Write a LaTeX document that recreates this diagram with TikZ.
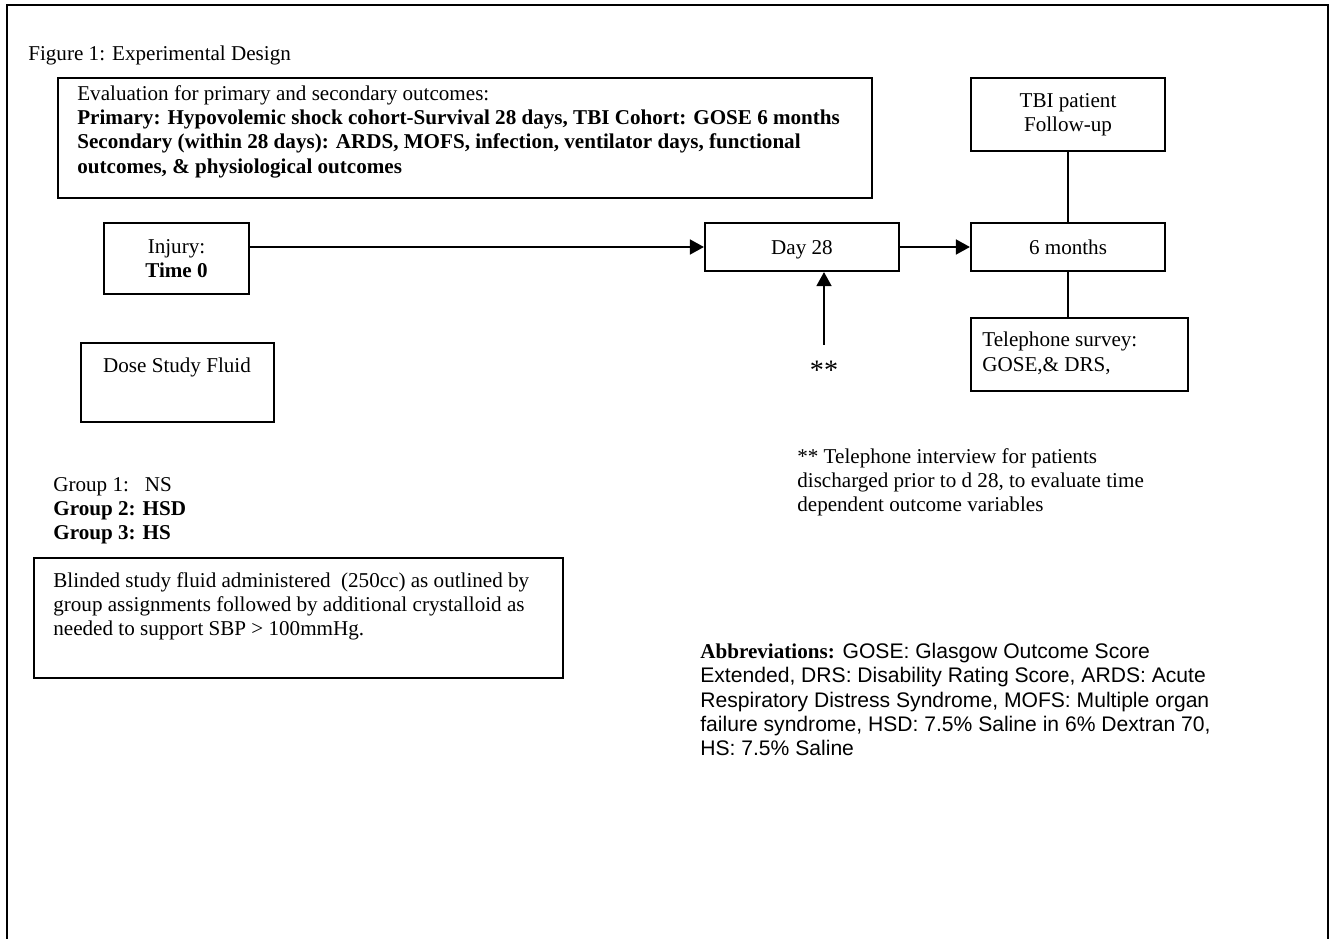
\documentclass[tikz,border=0pt]{standalone}
\usepackage{fontspec}
\setmainfont{Liberation Serif}
\newfontfamily\arialfont{Liberation Sans}
\usepackage{tikz}
\usetikzlibrary{arrows.meta,positioning,fit}

\begin{document}
\begin{tikzpicture}[
  x=0.5687pt,y=-0.5687pt,
  box/.style={draw,line width=1.2pt,inner sep=0pt,font=\fontsize{12}{13.8}\selectfont},
  sz/.style 2 args={minimum width=#1*0.5687pt,minimum height=#2*0.5687pt},
  txt/.style={inner sep=0pt,align=left,font=\fontsize{12}{13.8}\selectfont},
  arr/.style={-{Triangle[length=8pt,width=8.5pt]},line width=1.1pt},
  lnk/.style={line width=1.1pt}
]
\useasboundingbox (0,0) rectangle (1336,939);
\draw[lnk] (7,939) -- (7,5) -- (1328,5) -- (1328,939);
\node[txt,anchor=base west] (title) at (28,60) {Figure 1: Experimental Design};
% outcomes
\node[box,fit={(58,78) (872,198)}] (eval) {};
\node[txt,anchor=north west] (evaltxt) at (77,85) {Evaluation for primary and secondary outcomes:\\
\textbf{Primary: Hypovolemic shock cohort-Survival 28 days, TBI Cohort: GOSE 6 months}\\
\textbf{Secondary (within 28 days): ARDS, MOFS, infection, ventilator days, functional}\\
\textbf{outcomes, \& physiological outcomes}};
% time line
\node[box,sz={145}{71},align=center] (injury) at (176.5,258.5) {Injury:\\\textbf{Time 0}};
\node[box,sz={194}{48},text height=8pt,text depth=0pt] (day) at (802,247) {Day 28};
\node[box,sz={194}{48},text height=8pt,text depth=0pt] (six) at (1068,247) {6 months};
\node[box,sz={194}{73},align=center] (tbi) at (1068,114.5) {TBI patient\\Follow-up};
\node[box,fit={(971,318) (1188,391)}] (tel) {};
\node[txt,anchor=north west] (teltxt) at (982,332) {Telephone survey:\\GOSE,\& DRS,};
\node[txt,font=\fontsize{16}{16}\selectfont] (stars) at (824,370) {**};
% fluid
\node[box,fit={(81,343) (274,422)}] (dose) {};
\node[txt] (dosetxt) at (177,367) {Dose Study Fluid};
\node[txt,anchor=north west] (groups) at (53,477) {Group 1:\ \ \ NS\\\textbf{Group 2: HSD}\\\textbf{Group 3: HS}};
\node[box,fit={(34,558) (563,678)}] (blind) {};
\node[txt,anchor=north west] (blindtxt) at (53,572) {Blinded study fluid administered\ \ (250cc) as outlined by\\
group assignments followed by additional crystalloid as\\
needed to support SBP > 100mmHg.};
% notes
\node[txt,anchor=north west] (note) at (797,448) {** Telephone interview for patients\\
discharged prior to d 28, to evaluate time\\
dependent outcome variables};
\node[txt,anchor=north west,font=\fontsize{12}{13.8}\arialfont] (abbr) at (700,643) {{\rmfamily\textbf{Abbreviations:}} GOSE: Glasgow Outcome Score\\
Extended, DRS: Disability Rating Score, ARDS: Acute\\
Respiratory Distress Syndrome, MOFS: Multiple organ\\
failure syndrome, HSD: 7.5\% Saline in 6\% Dextran 70,\\
HS: 7.5\% Saline};
\draw[arr] (injury.east |- day.west) -- (day.west);
\draw[arr] (day.east) -- (six.west);
\draw[lnk] (tbi.south) -- (six.north);
\draw[lnk] (six.south) -- (six.south |- tel.north);
\draw[arr] ([yshift=9pt]stars.north) -- (stars.north |- day.south);
\end{tikzpicture}
\end{document}
